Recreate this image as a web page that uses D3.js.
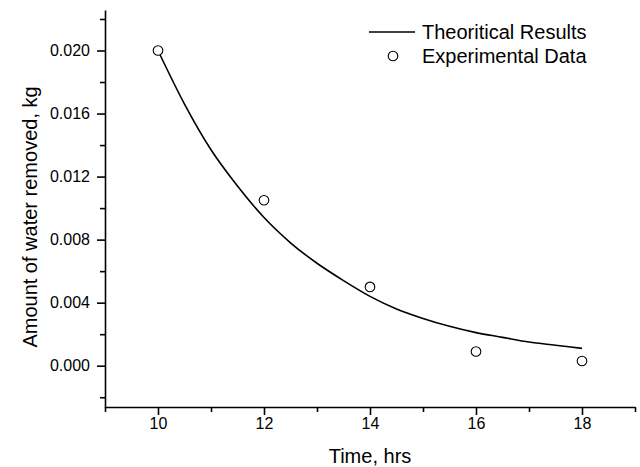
<!DOCTYPE html>
<html>
<head>
<meta charset="utf-8">
<script src="https://cdn.jsdelivr.net/npm/d3@7"></script>
<style>
  body { margin: 0; background: #fff; }
  svg { font-family: Arial, "Liberation Sans", sans-serif; }
</style>
</head>
<body>
<div id="chart"></div>
<script>
// experimental data points
const expTime = [10, 12, 14, 16, 18];
const expWater = [0.0200, 0.0105, 0.0050, 0.0009, 0.0003];

// theoretical curve
const theoTime = [10, 10.5, 11, 11.5, 12, 12.5, 13, 13.5, 14, 14.5, 15, 15.5, 16, 16.5, 17, 17.5, 18];
const theoWater = [0.0200, 0.0166, 0.0137, 0.0114, 0.0094, 0.0078, 0.0065, 0.0054, 0.0044, 0.0036,
  0.0030, 0.0025, 0.0021, 0.0018, 0.0015, 0.0013, 0.0011];

const xMajor = [10, 12, 14, 16, 18];
const xMinor = [9, 11, 13, 15, 17, 19];
const yMajor = [0.000, 0.004, 0.008, 0.012, 0.016, 0.020];
const yMinor = [-0.002, 0.002, 0.006, 0.010, 0.014, 0.018, 0.022];

const width = 640;
const height = 467;
const margin = { top: 10, right: 5, bottom: 60, left: 105 };

const svg = d3.select('#chart').append('svg')
  .attr('width', width)
  .attr('height', height);

const x = d3.scaleLinear()
  .domain([9, 19])
  .range([margin.left, width - margin.right]);
const y = d3.scaleLinear()
  .domain([-0.00262, 0.02257])
  .range([height - margin.bottom, margin.top]);

const x0 = margin.left;
const y0 = height - margin.bottom;

// minor ticks first, no labels
svg.append('g')
  .attr('transform', `translate(0,${y0})`)
  .call(d3.axisBottom(x).tickValues(xMinor).tickSize(5).tickSizeOuter(0).tickFormat(''))
  .call(g => g.select('.domain').remove());
svg.append('g')
  .attr('transform', `translate(${x0},0)`)
  .call(d3.axisLeft(y).tickValues(yMinor).tickSize(5).tickSizeOuter(0).tickFormat(''))
  .call(g => g.select('.domain').remove());

// major axes
svg.append('g')
  .attr('transform', `translate(0,${y0})`)
  .call(d3.axisBottom(x).tickValues(xMajor).tickSize(8).tickPadding(3).tickSizeOuter(0));
svg.append('g')
  .attr('transform', `translate(${x0},0)`)
  .call(d3.axisLeft(y).tickValues(yMajor).tickSize(8).tickPadding(7).tickSizeOuter(0)
    .tickFormat(d3.format('.3f')));

svg.selectAll('.tick line, .domain')
  .attr('stroke', '#000')
  .attr('stroke-width', 1.6);
svg.selectAll('.tick text')
  .attr('fill', '#000')
  .style('font-size', '16px');

// axis titles
svg.append('text')
  .attr('x', 370)
  .attr('y', 463)
  .attr('text-anchor', 'middle')
  .style('font-size', '20px')
  .text('Time, hrs');

svg.append('text')
  .attr('transform', 'translate(37,217) rotate(-90)')
  .attr('text-anchor', 'middle')
  .style('font-size', '20px')
  .text('Amount of water removed, kg');

// theoretical line
const theo = theoTime.map((t, i) => ({ t, v: theoWater[i] }));
const line = d3.line()
  .curve(d3.curveMonotoneX)
  .x(d => x(d.t))
  .y(d => y(d.v));

svg.append('path')
  .datum(theo)
  .attr('fill', 'none')
  .attr('stroke', '#000')
  .attr('stroke-width', 1.6)
  .attr('d', line);

// experimental points
const exp = expTime.map((t, i) => ({ t, v: expWater[i] }));
svg.selectAll('.pt')
  .data(exp)
  .enter().append('circle')
  .attr('class', 'pt')
  .attr('cx', d => x(d.t))
  .attr('cy', d => y(d.v))
  .attr('r', 4.8)
  .attr('fill', '#fff')
  .attr('stroke', '#000')
  .attr('stroke-width', 1.1);

// legend
const legend = svg.append('g');
legend.append('line')
  .attr('x1', 369).attr('x2', 415)
  .attr('y1', 32).attr('y2', 32)
  .attr('stroke', '#000')
  .attr('stroke-width', 1.6);
legend.append('text')
  .attr('x', 422).attr('y', 39)
  .style('font-size', '20px')
  .text('Theoritical Results');
legend.append('circle')
  .attr('cx', 393).attr('cy', 56)
  .attr('r', 4.8)
  .attr('fill', '#fff')
  .attr('stroke', '#000')
  .attr('stroke-width', 1.1);
legend.append('text')
  .attr('x', 422).attr('y', 63)
  .style('font-size', '20px')
  .text('Experimental Data');
</script>
</body>
</html>
